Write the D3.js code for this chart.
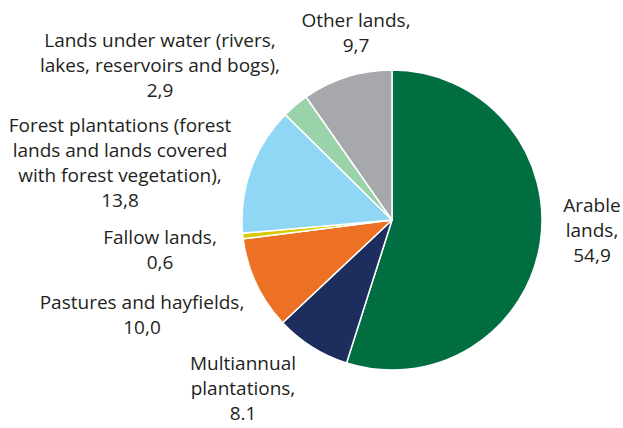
<!DOCTYPE html>
<html>
<head>
<meta charset="utf-8">
<script src="https://cdn.jsdelivr.net/npm/d3@7"></script>
<style>
  body { margin: 0; background: #fff; }
  text { font-family: "Open Sans", "Noto Sans", sans-serif; fill: #231f20; }
</style>
</head>
<body>
<div id="chart"></div>
<script>
// land categories, clockwise from the top
var categories = ["Arable lands", "Multiannual plantations", "Pastures and hayfields", "Fallow lands",
  "Forest plantations", "Lands under water", "Other lands"];
var values = [54.9, 8.1, 10.0, 0.6, 13.8, 2.9, 9.7];
var labelLines = [
  ["Arable", "lands,", "54,9"],
  ["Multiannual", "plantations,", "8.1"],
  ["Pastures and hayfields,", "10,0"],
  ["Fallow lands,", "0,6"],
  ["Forest plantations (forest", "lands and lands covered", "with forest vegetation),", "13,8"],
  ["Lands under water (rivers,", "lakes, reservoirs and bogs),", "2,9"],
  ["Other lands,", "9,7"]
];
var colors = ["#006e41", "#1c2d5e", "#ec7125", "#d7cb00", "#8fd7f4", "#9ad3a9", "#a7a8ab"];

// where each label block is centred (first line middle)
var labelPos = [[592, 205], [243, 363], [142, 302], [160, 237], [120, 125], [160, 40], [356, 20]];

var width = 623, height = 428;
var cx = 392, cy = 220, radius = 150;
var lineH = 25;

var svg = d3.select("#chart").append("svg")
  .attr("width", width)
  .attr("height", height);

var pie = d3.pie().sort(null).value(function(d) { return d; });
var arc = d3.arc().innerRadius(0).outerRadius(radius);

var g = svg.append("g").attr("transform", "translate(" + cx + "," + cy + ")");

g.selectAll("path")
  .data(pie(values))
  .enter().append("path")
  .attr("d", arc)
  .attr("fill", function(d, i) { return colors[i]; })
  .attr("stroke", "#fff")
  .attr("stroke-width", 1.5)
  .attr("stroke-linejoin", "round");

var labels = svg.selectAll("text.lbl")
  .data(labelLines)
  .enter().append("text")
  .attr("class", "lbl")
  .attr("text-anchor", "middle")
  .attr("font-size", 19)
  .attr("transform", function(d, i) { return "translate(" + labelPos[i][0] + "," + labelPos[i][1] + ")"; });

labels.selectAll("tspan")
  .data(function(d) { return d; })
  .enter().append("tspan")
  .attr("x", 0)
  .attr("y", function(d, j) { return j * lineH; })
  .attr("dy", "0.35em")
  .text(function(d) { return d; });
</script>
</body>
</html>
